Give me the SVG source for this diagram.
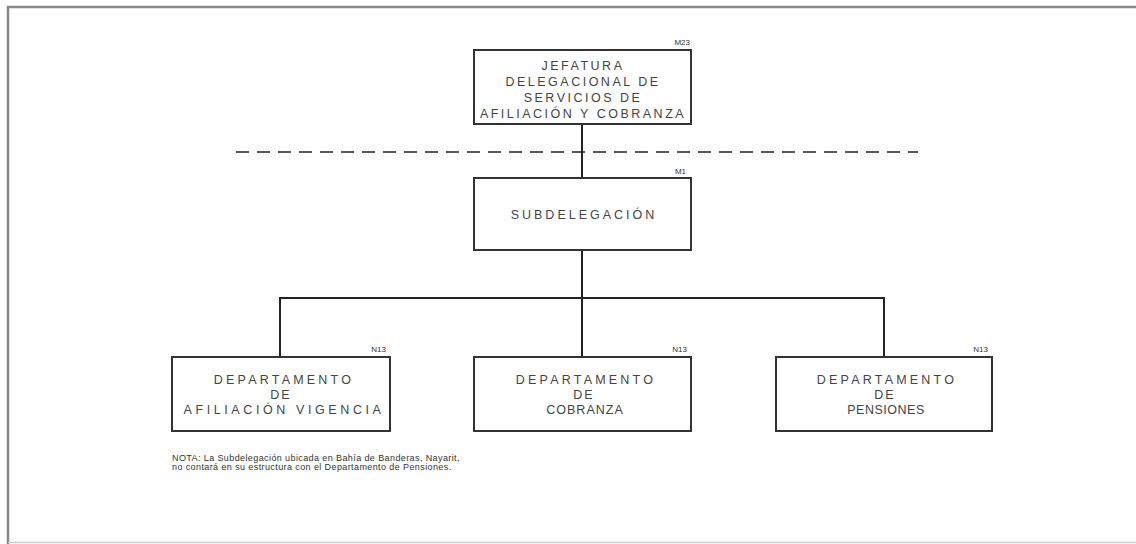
<svg xmlns="http://www.w3.org/2000/svg" width="1136" height="544" viewBox="0 0 1136 544">
<style>
.box{fill:#fff;stroke:#333;stroke-width:2}
.t{font-family:"Liberation Sans",Arial,sans-serif;font-size:12.5px;fill:#444;text-anchor:middle;letter-spacing:2.5px}
.lv{font-family:"Liberation Sans",Arial,sans-serif;font-size:8px;fill:#333;text-anchor:end}
.n{font-family:"Liberation Sans",Arial,sans-serif;font-size:9px;fill:#333;letter-spacing:0.4px}
.c{fill:none;stroke:#222;stroke-width:2}
</style>
<rect width="1136" height="544" fill="#fff"/>
<path d="M8 544 V7 H1136" fill="none" stroke="#888" stroke-width="2.5"/>
<line x1="8" y1="542.5" x2="1136" y2="542.5" stroke="#ccc" stroke-width="1.5"/>
<g id="connectors">
<line x1="236" y1="152" x2="918" y2="152" stroke="#222" stroke-width="1.5" stroke-dasharray="13,8"/>
<path class="c" d="M582 124 V178"/>
<path class="c" d="M582 250 V357"/>
<path class="c" d="M280 357 V298 H884 V357"/>
</g>
<g id="jefatura">
<rect class="box" x="474" y="50" width="217" height="74"/>
<text class="lv" x="690" y="45">M23</text>
<text class="t" x="583" y="70">JEFATURA</text>
<text class="t" x="583" y="86">DELEGACIONAL DE</text>
<text class="t" x="583" y="102">SERVICIOS DE</text>
<text class="t" x="583" y="118">AFILIACIÓN Y COBRANZA</text>
</g>
<g id="subdelegacion">
<rect class="box" x="474" y="178" width="217" height="72"/>
<text class="lv" x="686" y="174">M1</text>
<text class="t" x="584" y="219" style="letter-spacing:3px">SUBDELEGACIÓN</text>
</g>
<g id="afiliacion">
<rect class="box" x="172" y="357" width="218" height="74"/>
<text class="lv" x="386" y="352">N13</text>
<text class="t" x="284" y="384" style="letter-spacing:3.2px">DEPARTAMENTO</text>
<text class="t" x="281" y="399" style="letter-spacing:2px">DE</text>
<text class="t" x="284" y="414" style="letter-spacing:3.6px">AFILIACIÓN VIGENCIA</text>
</g>
<g id="cobranza">
<rect class="box" x="474" y="357" width="217" height="74"/>
<text class="lv" x="687" y="352">N13</text>
<text class="t" x="586" y="384" style="letter-spacing:3.2px">DEPARTAMENTO</text>
<text class="t" x="584" y="399" style="letter-spacing:2px">DE</text>
<text class="t" x="585" y="414" style="letter-spacing:1px">COBRANZA</text>
</g>
<g id="pensiones">
<rect class="box" x="776" y="357" width="216" height="74"/>
<text class="lv" x="988" y="352">N13</text>
<text class="t" x="887" y="384" style="letter-spacing:3.2px">DEPARTAMENTO</text>
<text class="t" x="885" y="399" style="letter-spacing:2px">DE</text>
<text class="t" x="886" y="414" style="letter-spacing:0.5px">PENSIONES</text>
</g>
<g id="nota">
<text class="n" x="172" y="461">NOTA: La Subdelegación ubicada en Bahía de Banderas, Nayarit,</text>
<text class="n" x="172" y="470">no contará en su estructura con el Departamento de Pensiones.</text>
</g>
</svg>
